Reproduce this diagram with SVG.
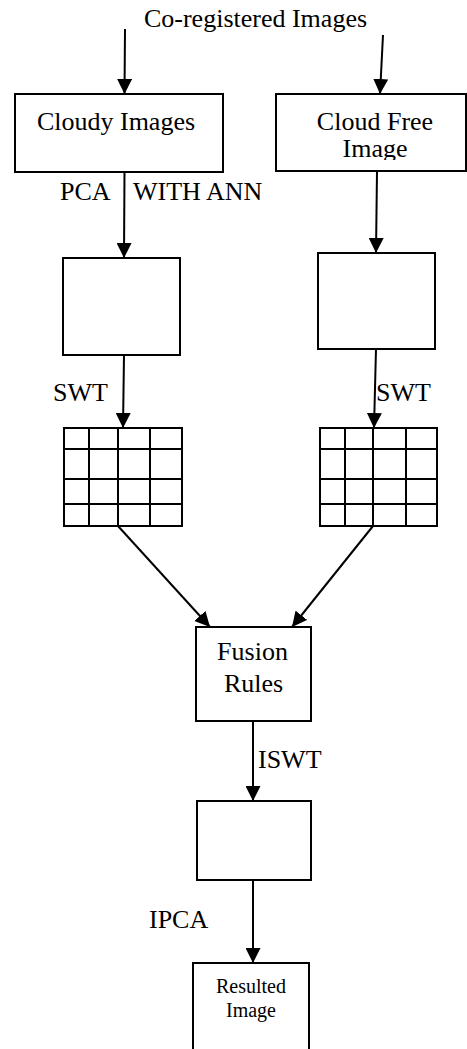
<svg xmlns="http://www.w3.org/2000/svg" width="467" height="1049" viewBox="0 0 467 1049">
<style>
.box{fill:#fff;stroke:#000;stroke-width:2}
.grid{fill:none;stroke:#000;stroke-width:2}
.conn{fill:none;stroke:#000;stroke-width:2;marker-end:url(#arr)}
text{font-family:'Liberation Serif','Times New Roman',Times,'DejaVu Serif',serif;fill:#000}
.t{font-size:26px}
.s{font-size:20px}
.m{text-anchor:middle}
</style>
<defs>
<marker id="arr" markerUnits="userSpaceOnUse" markerWidth="16" markerHeight="15" refX="15" refY="7.5" orient="auto" viewBox="0 0 16 15">
<path d="M0,0 L15,7.5 L0,15 z" fill="#000"/>
</marker>
<clipPath id="cfclip"><rect x="276" y="94" width="191" height="66"/></clipPath>
</defs>
<rect width="467" height="1049" fill="#fff"/>
<text class="t m" x="255.5" y="27" font-family="Liberation Serif, serif">Co-registered Images</text>
<g id="connectors">
<path class="conn" d="M125,29 L124.5,94"/>
<path class="conn" d="M383,35 L380,94"/>
<path class="conn" d="M124.5,172 L124,258"/>
<path class="conn" d="M377,171 L376,253"/>
<path class="conn" d="M124,355 L123,428"/>
<path class="conn" d="M376,349 L374,428"/>
<path class="conn" d="M118,526 L210,627"/>
<path class="conn" d="M373,526 L292,627"/>
<path class="conn" d="M253,721 L253,801"/>
<path class="conn" d="M253,880 L253,963"/>
</g>
<g id="labels">
<text class="t" x="60" y="200">PCA</text>
<text class="t" x="133" y="200">WITH ANN</text>
<text class="t" x="53" y="401">SWT</text>
<text class="t" x="376" y="401">SWT</text>
<text class="t" x="258" y="768">ISWT</text>
<text class="t" x="149" y="928">IPCA</text>
</g>
<g id="cloudy">
<rect class="box" x="15" y="94" width="208" height="78"/>
<text class="t m" x="116" y="130">Cloudy Images</text>
</g>
<g id="cloudfree">
<rect class="box" x="276" y="94" width="190" height="77"/>
<g clip-path="url(#cfclip)">
<text class="t m" x="375" y="130">Cloud Free</text>
<text class="t m" x="375" y="157">Image</text>
</g>
</g>
<g id="pcaL">
<rect class="box" x="63" y="258" width="117" height="97"/>
</g>
<g id="pcaR">
<rect class="box" x="318" y="253" width="117" height="96"/>
</g>
<g id="gridL">
<rect class="box" x="64" y="428" width="118" height="98"/>
<path class="grid" d="M89,428V526M118,428V526M150,428V526M64,449H182M64,479H182M64,504H182"/>
</g>
<g id="gridR">
<rect class="box" x="320" y="428" width="117" height="98"/>
<path class="grid" d="M345,428V526M373,428V526M406,428V526M320,449H437M320,479H437M320,504H437"/>
</g>
<g id="fusion">
<rect class="box" x="196" y="627" width="115" height="94"/>
<text class="t m" x="252.5" y="660">Fusion</text>
<text class="t m" x="253.5" y="692">Rules</text>
</g>
<g id="iswt">
<rect class="box" x="197" y="801" width="114" height="79"/>
</g>
<g id="resulted">
<path class="box" d="M193,1052 V963 H309 V1052"/>
<text class="s m" x="251" y="993">Resulted</text>
<text class="s m" x="251" y="1017">Image</text>
</g>
</svg>
